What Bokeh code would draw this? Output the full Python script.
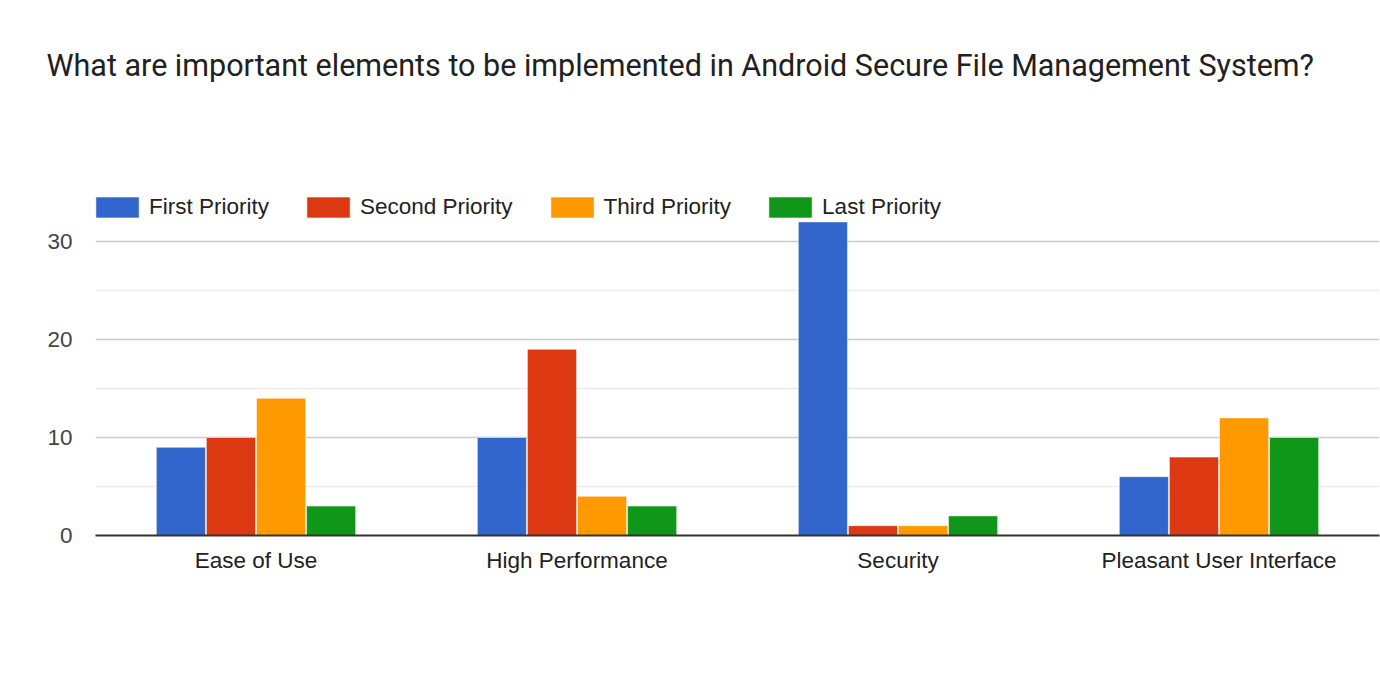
from bokeh.plotting import figure
from bokeh.models import ColumnDataSource, FixedTicker, Legend, LegendItem, Title
from bokeh.transform import dodge
from bokeh.embed import file_html
from bokeh.resources import INLINE

title_text = "What are important elements to be implemented in Android Secure File Management System?"
categories = ["Ease of Use", "High Performance", "Security", "Pleasant User Interface"]
series_names = ["First Priority", "Second Priority", "Third Priority", "Last Priority"]
first_priority = [9, 10, 32, 6]
second_priority = [10, 19, 1, 8]
third_priority = [14, 4, 1, 12]
last_priority = [3, 3, 2, 10]
y_ticks = [0, 10, 20, 30]
y_minor_ticks = [5, 15, 25, 35]
colors = ["#3366cc", "#dc3912", "#ff9900", "#109618"]

source = ColumnDataSource(dict(
    cat=categories,
    s0=first_priority,
    s1=second_priority,
    s2=third_priority,
    s3=last_priority,
))

p = figure(
    x_range=categories, y_range=(0, 35),
    frame_width=1284, frame_height=343,
    min_border_left=95, min_border_right=1, min_border_bottom=138, min_border_top=192,
    output_backend="svg", toolbar_location=None,
)
try:
    p.title = None
except Exception:
    p.title.text = ""
    p.title.standoff = 0

# spacer between frame and title (nearest the frame), then the real title
spacer = Title(text=" ", text_font="Roboto", text_font_size="30.5px", standoff=71,
               vertical_align="top")
p.add_layout(spacer, "above")
main_title = Title(text=title_text, text_font="Roboto", text_font_size="30.5px",
                   text_font_style="normal", text_color="#212121",
                   vertical_align="top", standoff=0, offset=-49, align="left")
p.add_layout(main_title, "above")

offsets = [-0.234, -0.078, 0.078, 0.234]
renderers = []
for i, off in enumerate(offsets):
    r = p.vbar(x=dodge("cat", off, range=p.x_range), top="s%d" % i, width=0.153,
               source=source, fill_color=colors[i], line_color="white", line_alpha=0.5, line_width=1)
    renderers.append(r)

legend = Legend(items=[LegendItem(label=n, renderers=[r]) for n, r in zip(series_names, renderers)],
                orientation="horizontal", location=(-5, 314))
legend.glyph_width = 54
legend.glyph_height = 26
legend.label_height = 29
legend.label_standoff = 5
legend.spacing = 32
legend.padding = 0
legend.margin = 0
legend.border_line_color = None
legend.background_fill_alpha = 0
legend.label_text_font = "Liberation Sans"
legend.label_text_font_size = "22.5px"
legend.label_text_color = "#222222"
p.add_layout(legend, "center")

p.yaxis.ticker = FixedTicker(ticks=y_ticks, minor_ticks=y_minor_ticks)
p.ygrid.ticker = p.yaxis.ticker
p.ygrid.grid_line_color = "#cccccc"
p.ygrid.grid_line_width = 1.5
p.ygrid.minor_grid_line_color = "#ebebeb"
p.ygrid.minor_grid_line_width = 1.5
p.xgrid.grid_line_color = None

p.yaxis.axis_line_color = None
p.yaxis.major_tick_line_color = None
p.yaxis.minor_tick_line_color = None
p.yaxis.major_label_text_font = "Liberation Sans"
p.yaxis.major_label_text_font_size = "22.5px"
p.yaxis.major_label_text_color = "#444444"
p.yaxis.major_label_standoff = 17

p.xaxis.axis_line_color = "#333333"
p.xaxis.axis_line_width = 2
p.xaxis.major_tick_line_color = None
p.xaxis.minor_tick_line_color = None
p.xaxis.major_label_text_font = "Liberation Sans"
p.xaxis.major_label_text_font_size = "22.5px"
p.xaxis.major_label_text_color = "#222222"
p.xaxis.major_label_standoff = 6

p.outline_line_color = None
p.background_fill_color = "white"
p.border_fill_color = "white"

open("out.html", "w").write(file_html(p, INLINE))
